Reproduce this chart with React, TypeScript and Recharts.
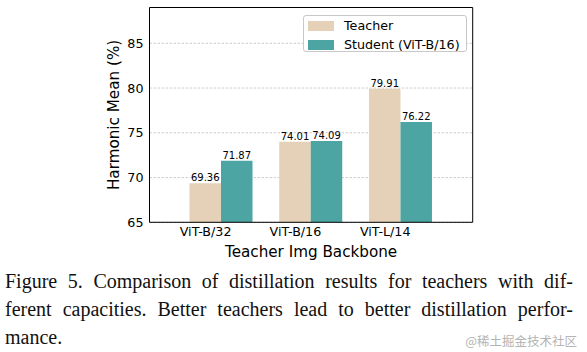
import { BarChart, Bar, XAxis, YAxis, CartesianGrid, LabelList, Legend, Label } from 'recharts';

const categories = ['ViT-B/32', 'ViT-B/16', 'ViT-L/14'];
const teacher = [69.36, 74.01, 79.91];
const student = [71.87, 74.09, 76.22];

const yMajor = [65, 70, 75, 80, 85];
const yMinor = [65, 66, 67, 68, 69, 70, 71, 72, 73, 74, 75, 76, 77, 78, 79, 80, 81, 82, 83, 84, 85, 86, 87, 88, 89];
const xMajor = [0, 1, 2];
const xMinor = [-0.6, -0.4, -0.2, 0, 0.2, 0.4, 0.6, 0.8, 1, 1.2, 1.4, 1.6, 1.8, 2, 2.2, 2.4, 2.6, 2.8];

const captionLines = [
  'Figure 5. Comparison of distillation results for teachers with dif-',
  'ferent capacities. Better teachers lead to better distillation perfor-',
  'mance.',
];

const rows = categories.map((name, i) => ({ name, teacher: teacher[i], student: student[i] }));

const FONT = '"DejaVu Sans", sans-serif';
const TEACHER = '#E4D1B7';
const STUDENT = '#4CA5A2';
const legendItems = [
  { label: 'Teacher', color: TEACHER },
  { label: 'Student (ViT-B/16)', color: STUDENT },
];
const xDomain: [number, number] = [-0.625, 2.975];
const yDomain: [number, number] = [65, 89];
const catIndex = (d: any) => categories.indexOf(d.name);
const THIN = 0.01; // tick-only axes need a non-zero size to be drawn

function LegendBox() {
  return (
    <div
      style={{
        border: '1px solid #c8c8c8',
        borderRadius: 3,
        background: '#fff',
        width: 164,
        height: 37,
        boxSizing: 'border-box',
        padding: '0 0 0 4px',
        fontFamily: FONT,
        fontSize: 12.7,
        color: '#000',
        textAlign: 'left',
      }}
    >
      {legendItems.map((p) => (
        <div key={p.label} style={{ display: 'flex', alignItems: 'center', height: 19 }}>
          <span style={{ width: 26, height: 10, background: p.color, marginRight: 10, flexShrink: 0 }} />
          <span style={{ lineHeight: '19px' }}>{p.label}</span>
        </div>
      ))}
    </div>
  );
}

const frame = { stroke: '#000', strokeWidth: 1 };
const tickLn = { stroke: '#000', strokeWidth: 0.8 };

export default function App() {
  return (
    <div style={{ position: 'absolute', left: 0, top: 0, width: 587, height: 352, background: '#fff', overflow: 'hidden' }}>
      <BarChart
        width={587}
        height={262}
        data={rows}
        margin={{ top: 7.5, right: 114.3, bottom: 3.7, left: 0 }}
        barGap={0}
        barCategoryGap={0}
      >
        <CartesianGrid xAxisId="num" yAxisId="lab" vertical={false} stroke="#c4c4c4" strokeDasharray="2.5 1.5" strokeWidth={0.8} />

        {/* tick-only axes first so they sit on the plot edges */}
        <XAxis xAxisId="bMaj" dataKey={catIndex} type="number" domain={xDomain} allowDataOverflow ticks={xMajor} interval={0} mirror height={THIN} tick={false} tickSize={5} tickLine={tickLn} axisLine={frame} />
        <XAxis xAxisId="bMin" dataKey={catIndex} type="number" domain={xDomain} allowDataOverflow ticks={xMinor} interval={0} mirror height={THIN} tick={false} tickSize={2.5} tickLine={tickLn} axisLine={false} />
        <XAxis xAxisId="tMaj" dataKey={catIndex} orientation="top" type="number" domain={xDomain} allowDataOverflow ticks={xMajor} interval={0} mirror height={THIN} tick={false} tickSize={5} tickLine={tickLn} axisLine={frame} />
        <XAxis xAxisId="tMin" dataKey={catIndex} orientation="top" type="number" domain={xDomain} allowDataOverflow ticks={xMinor} interval={0} mirror height={THIN} tick={false} tickSize={2.5} tickLine={tickLn} axisLine={false} />
        <YAxis yAxisId="lMaj" domain={yDomain} allowDataOverflow ticks={yMajor} interval={0} mirror width={THIN} tick={false} tickSize={5} tickLine={tickLn} axisLine={frame} />
        <YAxis yAxisId="lMin" domain={yDomain} allowDataOverflow ticks={yMinor} interval={0} mirror width={THIN} tick={false} tickSize={2.5} tickLine={tickLn} axisLine={false} />
        <YAxis yAxisId="rMaj" orientation="right" domain={yDomain} allowDataOverflow ticks={yMajor} interval={0} mirror width={THIN} tick={false} tickSize={5} tickLine={tickLn} axisLine={frame} />
        <YAxis yAxisId="rMin" orientation="right" domain={yDomain} allowDataOverflow ticks={yMinor} interval={0} mirror width={THIN} tick={false} tickSize={2.5} tickLine={tickLn} axisLine={false} />

        <XAxis xAxisId="cat" dataKey="name" hide height={0} padding={{ left: 27, right: 27 }} />
        <XAxis
          xAxisId="num"
          dataKey={catIndex}
          type="number"
          domain={xDomain}
          allowDataOverflow
          ticks={xMajor}
          interval={0}
          tickFormatter={(v: number) => categories[v] ?? ''}
          height={36}
          tickLine={false}
          axisLine={false}
          tickSize={0}
          tickMargin={4.5}
          tick={{ fill: '#000', fontSize: 12.7, fontFamily: FONT }}
        >
          <Label value="Teacher Img Backbone" position="insideBottom" offset={1} style={{ fill: '#000', fontSize: 15.2, fontFamily: FONT }} />
        </XAxis>

        <YAxis
          yAxisId="lab"
          domain={yDomain}
          allowDataOverflow
          ticks={yMajor}
          interval={0}
          width={149.5}
          tickLine={false}
          axisLine={false}
          tickSize={0}
          tickMargin={6}
          tick={{ fill: '#000', fontSize: 12.7, fontFamily: FONT }}
        >
          <Label value="Harmonic Mean (%)" angle={-90} position="insideLeft" offset={113.4} style={{ fill: '#000', fontSize: 15.2, fontFamily: FONT, textAnchor: 'middle' }} />
        </YAxis>

        <Legend
          layout="horizontal"
          verticalAlign="middle"
          align="center"
          content={<LegendBox />}
          wrapperStyle={{ left: 303, top: 15, width: 164, height: 37 }}
        />

        <Bar xAxisId="cat" yAxisId="lab" dataKey="teacher" name="Teacher" fill={TEACHER} barSize={31.5} isAnimationActive={false}>
          <LabelList dataKey="teacher" position="top" offset={2} formatter={(v: any) => Number(v).toFixed(2)} style={{ fill: '#000', fontSize: 10, fontFamily: FONT }} />
        </Bar>
        <Bar xAxisId="cat" yAxisId="lab" dataKey="student" name="Student (ViT-B/16)" fill={STUDENT} barSize={31.5} isAnimationActive={false}>
          <LabelList dataKey="student" position="top" offset={2} formatter={(v: any) => Number(v).toFixed(2)} style={{ fill: '#000', fontSize: 10, fontFamily: FONT }} />
        </Bar>
      </BarChart>

      <div
        style={{
          position: 'absolute',
          left: 5,
          top: 267,
          width: 568,
          fontFamily: '"Liberation Serif", "Times New Roman", serif',
          fontSize: 20,
          lineHeight: '28px',
          color: '#111',
        }}
      >
        {captionLines.map((line, i) => (
          <div
            key={i}
            style={{
              whiteSpace: 'nowrap',
              textAlign: 'justify',
              textAlignLast: i < captionLines.length - 1 ? 'justify' : 'left',
            }}
          >
            {line}
          </div>
        ))}
      </div>

      <div
        style={{
          position: 'absolute',
          right: 10,
          top: 333,
          fontFamily: '"Noto Sans CJK SC", sans-serif',
          fontSize: 12.5,
          lineHeight: '16px',
          color: '#b4b4b4',
        }}
      >
        @稀土掘金技术社区
      </div>
    </div>
  );
}
